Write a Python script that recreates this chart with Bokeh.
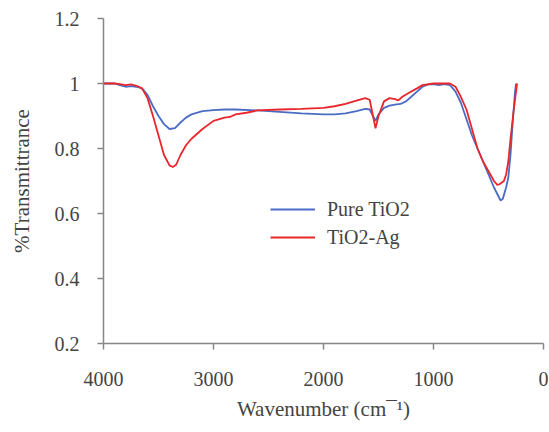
from bokeh.plotting import figure
from bokeh.models import Range1d, Legend, LegendItem, FixedTicker
from bokeh.embed import file_html
from bokeh.resources import INLINE

# Pure TiO2
wn_pure = [4000, 3900, 3850, 3800, 3750, 3700, 3650, 3600, 3550, 3500, 3450, 3400, 3350, 3300,
           3250, 3200, 3100, 3000, 2900, 2800, 2600, 2400, 2200, 2000, 1900, 1800, 1700, 1620,
           1580, 1550, 1527, 1500, 1450, 1400, 1350, 1300, 1250, 1200, 1150, 1100, 1050, 1000,
           950, 900, 850, 800, 750, 700, 650, 600, 550, 500, 450, 420, 390, 370, 340, 320, 300,
           280, 260, 250]
t_pure = [1.0, 1.0, 0.995, 0.99, 0.992, 0.99, 0.985, 0.965, 0.93, 0.90, 0.875, 0.86, 0.863, 0.88,
          0.895, 0.905, 0.915, 0.918, 0.92, 0.92, 0.917, 0.913, 0.908, 0.905, 0.905, 0.908, 0.915, 0.922,
          0.92, 0.90, 0.885, 0.905, 0.925, 0.932, 0.935, 0.937, 0.945, 0.96, 0.975, 0.99, 0.997, 0.998,
          0.995, 0.998, 0.995, 0.975, 0.94, 0.89, 0.84, 0.80, 0.76, 0.72, 0.68, 0.66, 0.64, 0.645, 0.68, 0.71, 0.78,
          0.88, 0.97, 1.0]

# TiO2-Ag
wn_ag = [4000, 3900, 3850, 3800, 3750, 3700, 3650, 3600, 3550, 3500, 3450, 3400, 3370, 3340, 3300,
         3250, 3200, 3100, 3000, 2900, 2850, 2800, 2700, 2600, 2400, 2200, 2000, 1900, 1800, 1700,
         1620, 1580, 1550, 1527, 1500, 1450, 1400, 1350, 1320, 1280, 1230, 1150, 1100, 1000, 900,
         850, 800, 760, 700, 650, 600, 550, 500, 450, 420, 400, 360, 340, 320, 300, 270, 240]
t_ag = [1.0, 1.0, 0.998, 0.995, 0.997, 0.993, 0.985, 0.955, 0.90, 0.84, 0.78, 0.748, 0.743, 0.75, 0.78,
        0.81, 0.83, 0.86, 0.885, 0.895, 0.897, 0.905, 0.91, 0.917, 0.92, 0.922, 0.925, 0.93, 0.937, 0.947,
        0.955, 0.95, 0.90, 0.862, 0.90, 0.945, 0.955, 0.952, 0.948, 0.96, 0.97, 0.985, 0.995, 1.0, 1.0,
        1.0, 0.99, 0.965, 0.92, 0.86, 0.80, 0.76, 0.73, 0.70, 0.688, 0.69, 0.70, 0.72, 0.76, 0.83, 0.92, 1.0]

series_labels = ["Pure TiO2", "TiO2-Ag"]
x_ticks = [4000, 3000, 2000, 1000, 0]
y_ticks = [0.2, 0.4, 0.6, 0.8, 1.0, 1.2]
y_tick_labels = {0.2: "0.2", 0.4: "0.4", 0.6: "0.6", 0.8: "0.8", 1.0: "1", 1.2: "1.2"}

FONT = "Liberation Serif"
AXC = "#868686"

p = figure(width=548, height=428, output_backend="svg", toolbar_location=None,
           x_range=Range1d(4000, 0), y_range=Range1d(0.2, 1.2),
           min_border_left=103, min_border_right=5, min_border_top=18, min_border_bottom=85)
p.outline_line_color = None
p.xgrid.visible = False
p.ygrid.visible = False

r1 = p.line(wn_pure, t_pure, line_color="#4a6cc4", line_width=1.8)
r2 = p.line(wn_ag, t_ag, line_color="#e8262c", line_width=1.8)

p.xaxis.ticker = FixedTicker(ticks=x_ticks)
p.yaxis.ticker = FixedTicker(ticks=y_ticks)
p.yaxis.major_label_overrides = y_tick_labels

p.xaxis.major_label_text_font = FONT
p.xaxis.major_label_text_font_size = "20px"
p.yaxis.major_label_text_font = FONT
p.yaxis.major_label_text_font_size = "20px"
p.xaxis.axis_label = "Wavenumber (cm\u00af\u00b9)"
p.yaxis.axis_label = "%Transmittrance"
p.xaxis.axis_label_text_font = FONT
p.xaxis.axis_label_text_font_size = "21px"
p.xaxis.axis_label_text_font_style = "normal"
p.yaxis.axis_label_text_font = FONT
p.yaxis.axis_label_text_font_size = "21px"
p.yaxis.axis_label_text_font_style = "normal"

p.xaxis.axis_line_color = AXC
p.yaxis.axis_line_color = AXC
p.xaxis.axis_line_width = 1.5
p.yaxis.axis_line_width = 1.5
p.xaxis.major_tick_line_color = AXC
p.yaxis.major_tick_line_color = AXC
p.xaxis.major_tick_line_width = 1.5
p.yaxis.major_tick_line_width = 1.5
p.xaxis.major_tick_out = 6
p.yaxis.major_tick_out = 6
p.xaxis.major_tick_in = 0
p.yaxis.major_tick_in = 0
p.xaxis.minor_tick_line_color = None
p.yaxis.minor_tick_line_color = None
p.xaxis.major_label_standoff = 22
p.yaxis.major_label_standoff = 18
p.xaxis.axis_label_standoff = 8
p.yaxis.axis_label_standoff = 18

legend = Legend(items=[LegendItem(label=series_labels[0], renderers=[r1]),
                       LegendItem(label=series_labels[1], renderers=[r2])],
                location=(167, 92), border_line_color=None, background_fill_alpha=0,
                padding=0, margin=0, spacing=0, glyph_width=45, glyph_height=28,
                label_standoff=12, label_text_font=FONT, label_text_font_size="20px")
p.add_layout(legend)

open("out.html", "w").write(file_html(p, INLINE))
